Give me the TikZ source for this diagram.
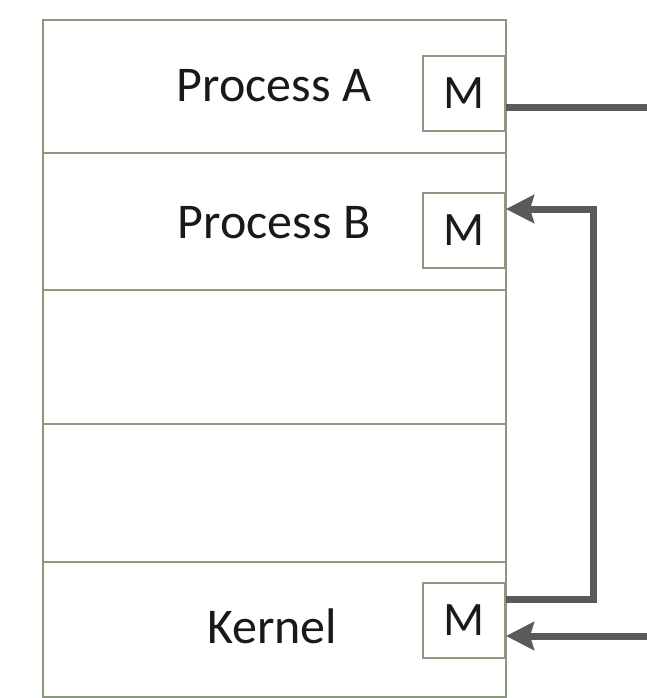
\documentclass[tikz,border=0pt]{standalone}
\usepackage{fontspec}
\setmainfont{Carlito}
\usetikzlibrary{arrows.meta}
\definecolor{boxline}{HTML}{8A9880}
\definecolor{arrowgray}{HTML}{5A5A5A}
\tikzset{
  cell/.style={draw=boxline, line width=2pt, fill=white},
  mbox/.style={draw=boxline, line width=2pt, fill=white, minimum width=82pt, minimum height=75pt, inner sep=0pt, font=\fontsize{48}{52}\selectfont, text=black!90},
  lbl/.style={font=\fontsize{50}{54}\selectfont, text=black!90, anchor=base, inner sep=0pt},
  conn/.style={draw=arrowgray, line width=7pt},
  tip/.style={-{Stealth[length=28pt, width=28pt, inset=4pt]}}
}
\begin{document}
\begin{tikzpicture}[x=1pt,y=-1pt]
\useasboundingbox (0,0) rectangle (646,698);
% memory layers
\draw[cell] (43,20) rectangle (506,697);
\draw[boxline, line width=2pt] (43,153) -- (506,153);
\draw[boxline, line width=2pt] (43,290) -- (506,290);
\draw[boxline, line width=2pt] (43,424) -- (506,424);
\draw[boxline, line width=2pt] (43,562) -- (506,562);
% labels
\node[lbl] (pa) at (274,102) {Process A};
\node[lbl] (pb) at (274,238) {Process B};
\node[lbl] (kn) at (272,643) {Kernel};
% M boxes
\node[mbox] (ma) at (464,93.5) {M};
\node[mbox] (mb) at (464,230.5) {M};
\node[mbox] (mk) at (464,620) {M};
% connector ends
\coordinate (outA) at (648,108);
\coordinate (inK) at (648,636);
\coordinate (turn1) at (593,599);
\coordinate (turn2) at (593,209);
% connectors
\draw[conn, line cap=butt] (ma.east |- outA) -- (outA);
\draw[conn, tip] (inK) -- (mk.east |- inK);
\draw[conn, tip, line join=miter] (mk.east |- turn1) -- (turn1) -- (turn2) -- (mb.east |- turn2);
\end{tikzpicture}
\end{document}
